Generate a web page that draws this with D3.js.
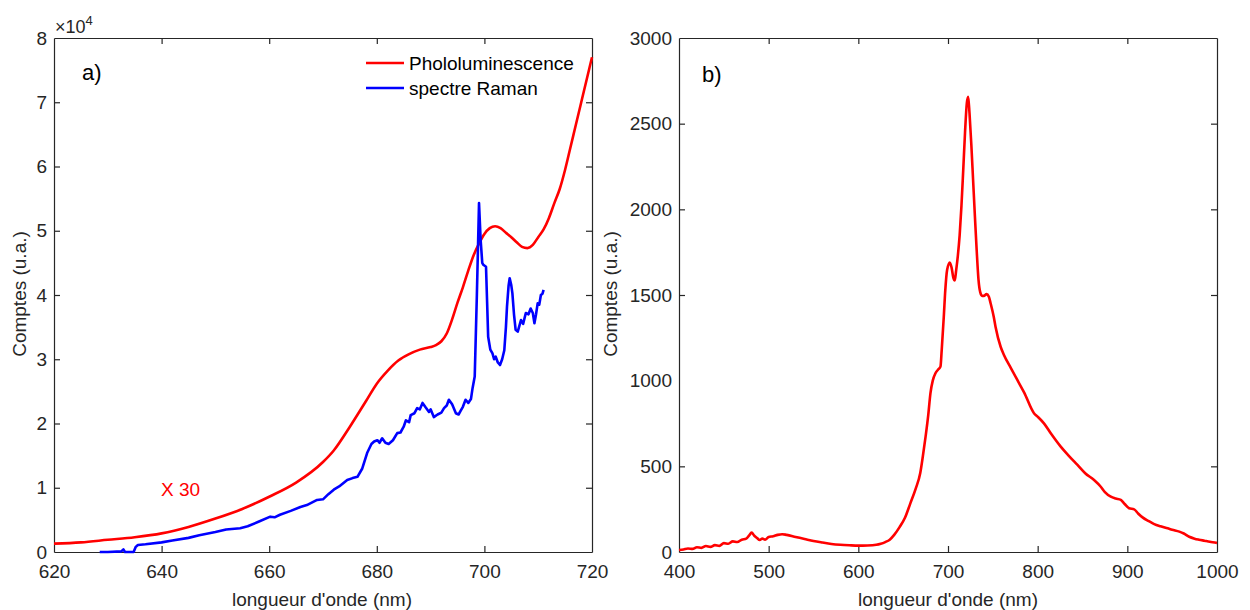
<!DOCTYPE html>
<html>
<head>
<meta charset="utf-8">
<script src="https://d3js.org/d3.v7.min.js"></script>
<style>
  body { margin: 0; background: #fff; }
  text { font-family: "Liberation Sans", Arial, sans-serif; }
</style>
</head>
<body>
<div id="chart"></div>
<script>
// ---- data ----
// panel a) photoluminescence (x30), values in units of 1e4
var plWave = [620,625,630,635,640,645,650,655,660,665,670,672,675,678,680,682,684,686,688,690,691,692,693,694,695,696,697,698,699,700,701,702,703,704,705,706,707,708,709,710,711,712,713,714,715,716,717,718,719,720];
var plCounts = [0.13,0.15,0.19,0.23,0.29,0.39,0.52,0.67,0.86,1.08,1.40,1.58,1.95,2.35,2.62,2.82,2.98,3.08,3.15,3.19,3.22,3.28,3.40,3.62,3.88,4.12,4.38,4.62,4.80,4.95,5.04,5.07,5.04,4.97,4.90,4.82,4.75,4.73,4.78,4.90,5.02,5.20,5.43,5.65,5.95,6.30,6.65,7.00,7.35,7.70];

// panel a) raman spectrum, units of 1e4
var ramanWave = [628.5,630,632.5,632.9,633.2,634.8,635.2,635.6,637,640,642,645,647,650,652,654.6,656,658,660.2,661,662,664,665.8,667,668.9,670,671,672,673,674.5,675.5,676.4,677.3,678.2,679,679.5,680.1,680.5,681,681.6,682.2,683,683.8,684.4,685,685.4,686,686.3,687,687.5,688,688.5,689,689.7,690,690.6,691.3,692,692.5,693,693.4,694,694.7,695.2,695.6,696,696.5,697,697.5,697.8,698.2,698.6,699.0,699.3,699.6,699.8,700.3,700.5,700.7,701.1,701.5,701.8,702.1,702.5,702.9,703.3,703.7,704.0,704.2,704.5,704.7,705.0,705.2,705.5,705.8,706.2,706.5,706.8,707.2,707.7,708.2,708.6,709.0,709.3,709.6,709.9,710.2,710.5,710.8,711];
var ramanCounts = [0.0,0.0,0.01,0.04,0.0,0.0,0.08,0.11,0.12,0.15,0.18,0.22,0.26,0.31,0.35,0.37,0.40,0.47,0.55,0.54,0.58,0.64,0.70,0.73,0.81,0.82,0.90,0.97,1.02,1.12,1.15,1.17,1.30,1.54,1.68,1.72,1.74,1.70,1.77,1.70,1.68,1.74,1.85,1.86,1.95,2.05,2.02,2.13,2.16,2.24,2.22,2.32,2.26,2.18,2.22,2.10,2.14,2.17,2.24,2.28,2.37,2.30,2.16,2.14,2.20,2.26,2.37,2.32,2.38,2.55,2.73,4.0,5.43,4.86,4.5,4.47,4.44,3.9,3.35,3.15,3.09,3.0,3.04,2.95,2.91,3.0,3.14,3.5,3.82,4.15,4.26,4.15,4.03,3.7,3.46,3.43,3.52,3.61,3.55,3.72,3.70,3.79,3.72,3.56,3.7,3.87,3.85,4.0,4.02,4.08];

// panel b) full photoluminescence spectrum
var specWave = [400,405,410,415,420,425,430,435,440,445,450,455,460,465,470,475,478,481,484,487,490,493,496,500,505,510,515,520,530,540,550,560,570,580,590,600,610,620,625,630,635,640,646,652,658,664,669,672,675,678,680.4,683,686,689,691.6,693,695.3,697,699,702,704,706,707.6,709,711,713,715,717,719,721,722.5,724,726,728,730,732,734,736,738,740,743,745.6,747.5,751,753,758.7,762.4,770,777.3,785,795.9,800,807,815,825.7,835,844.4,853,862.9,870.4,875,881.6,887,892.7,897,902,907.6,912,917,924,930,937,945,950,958,963,969,975,980,986,992,999,1000];
var specCounts = [12,15,20,18,28,24,35,30,40,36,52,48,62,58,72,78,95,113,95,82,70,78,72,88,92,100,104,100,88,76,64,55,47,42,39,37,38,42,48,58,72,100,145,200,284,370,459,560,673,800,926,1000,1043,1065,1082,1180,1373,1530,1646,1690,1660,1600,1585,1640,1730,1850,2020,2230,2450,2620,2657,2560,2380,2170,1960,1760,1590,1515,1495,1495,1505,1490,1452,1373,1315,1198,1150,1075,1004,930,810,790,751,690,615,560,508,460,420,381,350,323,312,304,280,255,249,225,202,180,163,150,138,130,119,108,89,78,72,66,60,54,53];

// tick values
var aXTicks = [620,640,660,680,700,720];
var aYTicks = [0,1,2,3,4,5,6,7,8];
var bXTicks = [400,500,600,700,800,900,1000];
var bYTicks = [0,500,1000,1500,2000,2500,3000];

var W = 1250, H = 610;
var axisColor = "#262626";
var fs = "19px";

var svg = d3.select("#chart")
  .append("svg")
    .attr("width", W)
    .attr("height", H);

// draws one boxed matlab-style axes, returns scales + group
function makeAxes(left, right, top, bottom, xDom, yDom, xTicks, yTicks) {
  var x = d3.scaleLinear().domain(xDom).range([left, right]);
  var y = d3.scaleLinear().domain(yDom).range([bottom, top]);
  var g = svg.append("g");
  var tl = 6;
  var fmt = d3.format("d");

  // bottom axis, ticks pointing in
  g.append("g")
    .attr("transform", "translate(0," + bottom + ")")
    .call(d3.axisBottom(x).tickValues(xTicks).tickFormat(fmt).tickSizeInner(-tl).tickSizeOuter(0).tickPadding(13));
  // top mirror
  g.append("g")
    .attr("transform", "translate(0," + top + ")")
    .call(d3.axisTop(x).tickValues(xTicks).tickSizeInner(-tl).tickSizeOuter(0).tickFormat(""));
  // left axis
  g.append("g")
    .attr("transform", "translate(" + left + ",0)")
    .call(d3.axisLeft(y).tickValues(yTicks).tickFormat(fmt).tickSizeInner(-tl).tickSizeOuter(0).tickPadding(7));
  // right mirror
  g.append("g")
    .attr("transform", "translate(" + right + ",0)")
    .call(d3.axisRight(y).tickValues(yTicks).tickSizeInner(-tl).tickSizeOuter(0).tickFormat(""));

  g.selectAll(".domain").attr("stroke", axisColor).attr("stroke-width", 1.2);
  g.selectAll(".tick line").attr("stroke", axisColor).attr("stroke-width", 1.2);
  g.selectAll(".tick text")
    .attr("fill", axisColor)
    .style("font-size", fs)
    .style("font-family", "'Liberation Sans', Arial, sans-serif");

  // hide the end ticks that sit on the box edge
  g.selectAll(".tick line").filter(function(d) {
    return d == xDom[0] || d == xDom[1] || d == yDom[0] || d == yDom[1];
  }).remove();

  return {x: x, y: y, g: g};
}

function drawLine(ax, xs, ys, color, curve) {
  var pts = xs.map(function(d, i) { return [d, ys[i]]; });
  var line = d3.line()
    .x(function(d) { return ax.x(d[0]); })
    .y(function(d) { return ax.y(d[1]); })
    .curve(curve);
  ax.g.append("path")
    .datum(pts)
    .attr("fill", "none")
    .attr("stroke", color)
    .attr("stroke-width", 2.6)
    .attr("stroke-linejoin", "round")
    .attr("d", line);
}

// ---------- panel a ----------
var a = makeAxes(54, 592, 38, 552, [620, 720], [0, 8], aXTicks, aYTicks);
drawLine(a, plWave, plCounts, "#ff0000", d3.curveMonotoneX);
drawLine(a, ramanWave, ramanCounts, "#0000ff", d3.curveLinear);

// x10^4 exponent label
var expo = svg.append("text")
  .attr("x", 55)
  .attr("y", 33)
  .attr("fill", axisColor)
  .style("font-size", "18px");
expo.append("tspan").text("\u00d710");
expo.append("tspan").attr("dy", -8).style("font-size", "13px").text("4");

svg.append("text")
  .attr("x", 82).attr("y", 80)
  .style("font-size", "22px")
  .text("a)");

svg.append("text")
  .attr("x", 161).attr("y", 496)
  .attr("fill", "#ff0000")
  .style("font-size", fs)
  .text("X 30");

// legend
var legendItems = ["Phololuminescence", "spectre Raman"];
var legendColors = ["#ff0000", "#0000ff"];
legendItems.forEach(function(name, i) {
  var ly = 63 + i * 25;
  svg.append("line")
    .attr("x1", 366).attr("x2", 404)
    .attr("y1", ly).attr("y2", ly)
    .attr("stroke", legendColors[i])
    .attr("stroke-width", 2.6);
  svg.append("text")
    .attr("x", 409).attr("y", ly + 7)
    .attr("fill", "#000")
    .style("font-size", fs)
    .text(name);
});

// axis labels
svg.append("text")
  .attr("text-anchor", "middle")
  .attr("x", 322).attr("y", 606)
  .attr("fill", axisColor)
  .style("font-size", fs)
  .text("longueur d'onde (nm)");
svg.append("text")
  .attr("text-anchor", "middle")
  .attr("transform", "translate(26," + 294 + ") rotate(-90)")
  .attr("fill", axisColor)
  .style("font-size", fs)
  .text("Comptes (u.a.)");

// ---------- panel b ----------
var b = makeAxes(679, 1217, 38, 552, [400, 1000], [0, 3000], bXTicks, bYTicks);
drawLine(b, specWave, specCounts, "#ff0000", d3.curveMonotoneX);

svg.append("text")
  .attr("x", 702).attr("y", 82)
  .style("font-size", "22px")
  .text("b)");

svg.append("text")
  .attr("text-anchor", "middle")
  .attr("x", 948).attr("y", 606)
  .attr("fill", axisColor)
  .style("font-size", fs)
  .text("longueur d'onde (nm)");
svg.append("text")
  .attr("text-anchor", "middle")
  .attr("transform", "translate(617," + 294 + ") rotate(-90)")
  .attr("fill", axisColor)
  .style("font-size", fs)
  .text("Comptes (u.a.)");
</script>
</body>
</html>
